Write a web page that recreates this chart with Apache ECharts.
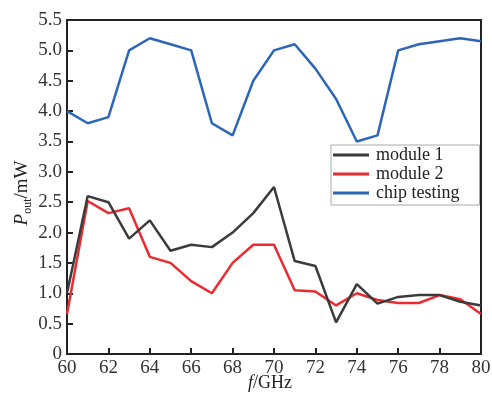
<!DOCTYPE html>
<html>
<head>
<meta charset="utf-8">
<script src="https://cdn.jsdelivr.net/npm/echarts@6/dist/echarts.min.js"></script>
<style>
  html, body { margin: 0; padding: 0; background: #fff; }
  #chart { width: 492px; height: 395px; }
</style>
</head>
<body>
<div id="chart"></div>
<script>
"use strict";

// frequency points (GHz)
var freq = [60, 61, 62, 63, 64, 65, 66, 67, 68, 69, 70, 71, 72, 73, 74, 75, 76, 77, 78, 79, 80];

// output power (mW)
var module1 = [1.0, 2.6, 2.5, 1.9, 2.2, 1.7, 1.8, 1.76, 2.0, 2.32, 2.75, 1.53, 1.45, 0.52, 1.15, 0.83, 0.94, 0.97, 0.97, 0.86, 0.8];
var module2 = [0.66, 2.52, 2.32, 2.4, 1.6, 1.5, 1.2, 1.0, 1.5, 1.8, 1.8, 1.05, 1.03, 0.8, 1.0, 0.89, 0.84, 0.84, 0.97, 0.9, 0.66];
var chipTesting = [4.0, 3.8, 3.9, 5.0, 5.2, 5.1, 5.0, 3.8, 3.6, 4.5, 5.0, 5.1, 4.7, 4.2, 3.5, 3.6, 5.0, 5.1, 5.15, 5.2, 5.15];

var seriesNames = ['module 1', 'module 2', 'chip testing'];
var seriesColors = ['#3b3b3b', '#ec2a2f', '#2c66b8'];

var font = 'Liberation Serif, Times New Roman, serif';

function pairs(ys) {
    return freq.map(function (f, i) { return [f, ys[i]]; });
}

var myChart = echarts.init(document.getElementById('chart'));

var option = {
    animation: false,
    grid: {
        left: 67, right: 11, top: 20, bottom: 41,
        outerBoundsMode: 'none',
        containLabel: false,
        show: true,
        borderColor: '#222',
        borderWidth: 2,
        backgroundColor: 'transparent'
    },
    legend: {
        orient: 'vertical',
        left: 331,
        top: 145,
        backgroundColor: '#fff',
        borderColor: '#aaa',
        borderWidth: 1,
        padding: [1, 20, 3, 2],
        itemGap: 1,
        itemWidth: 36,
        itemHeight: 3,
        icon: 'rect',
        textStyle: { fontFamily: font, fontSize: 18, lineHeight: 18, color: '#222', padding: [0, 0, 0, 2] },
        data: seriesNames
    },
    xAxis: {
        type: 'value',
        min: 60,
        max: 80,
        interval: 2,
        name: '{i|f}{n|/GHz}',
        nameLocation: 'middle',
        nameGap: 20,
        nameMoveOverlap: false,
        nameTextStyle: {
            padding: [0, 8, 0, 0],
            rich: {
                i: { fontFamily: font, fontSize: 18, fontStyle: 'italic', color: '#222' },
                n: { fontFamily: font, fontSize: 18, color: '#222' }
            }
        },
        axisLine: { show: true, lineStyle: { color: '#222', width: 2 } },
        axisTick: { show: true, inside: true, length: 6, lineStyle: { color: '#222', width: 2 } },
        axisLabel: { fontFamily: font, fontSize: 19, color: '#333', margin: 5 },
        splitLine: { show: false }
    },
    yAxis: {
        type: 'value',
        min: 0,
        max: 5.5,
        interval: 0.5,
        name: '{i|P}{s|out}{n|/mW}',
        nameLocation: 'middle',
        nameGap: 33,
        nameMoveOverlap: false,
        nameTextStyle: {
            padding: [0, 12, 0, 0],
            rich: {
                i: { fontFamily: font, fontSize: 19, fontStyle: 'italic', color: '#222', lineHeight: 24 },
                s: { fontFamily: font, fontSize: 12, color: '#222', verticalAlign: 'top', lineHeight: 24, padding: [12, 0, 0, 0] },
                n: { fontFamily: font, fontSize: 19, color: '#222', lineHeight: 24 }
            }
        },
        axisLine: { show: true, lineStyle: { color: '#222', width: 2 } },
        axisTick: { show: true, inside: true, length: 6, lineStyle: { color: '#222', width: 2 } },
        axisLabel: {
            fontFamily: font, fontSize: 19, color: '#333', margin: 5,
            formatter: function (v) { return v === 0 ? '0' : v.toFixed(1); }
        },
        splitLine: { show: false }
    },
    series: [module1, module2, chipTesting].map(function (ys, i) {
        return {
            name: seriesNames[i],
            type: 'line',
            symbol: 'none',
            data: pairs(ys),
            color: seriesColors[i],
            lineStyle: { width: 2.5, color: seriesColors[i] },
            z: 3 - i
        };
    })
};

myChart.setOption(option);
</script>
</body>
</html>
